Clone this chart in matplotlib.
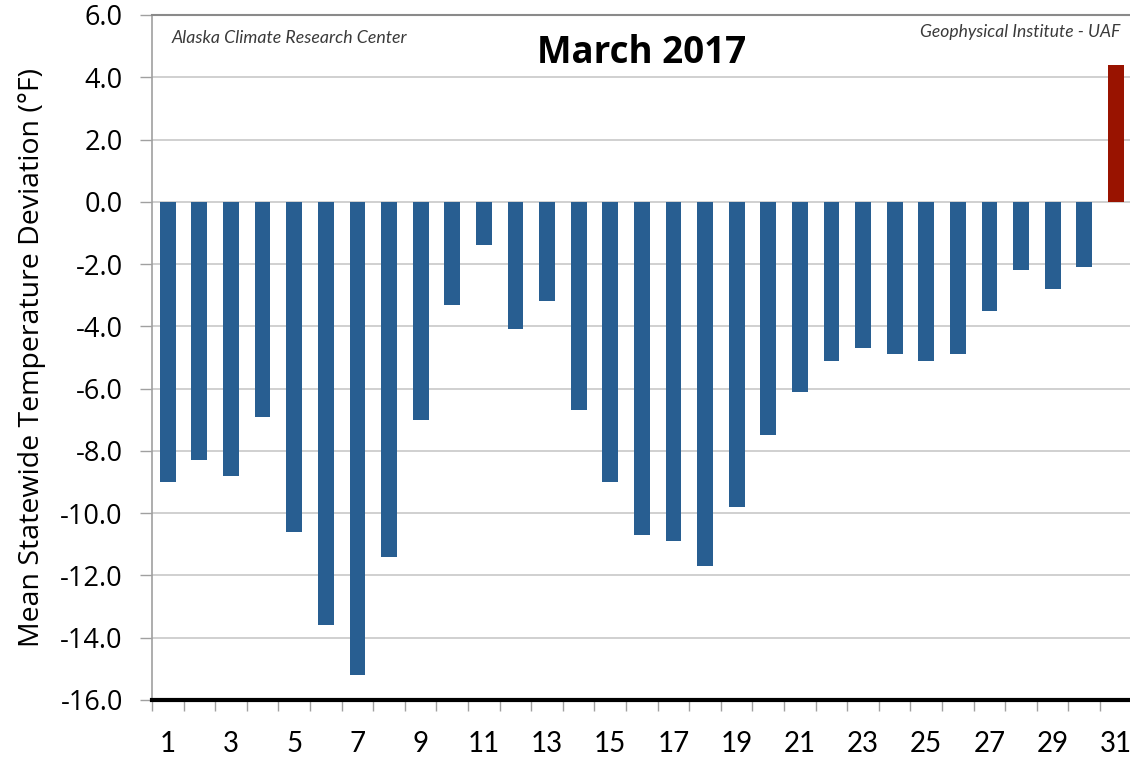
import matplotlib.pyplot as plt
import numpy as np

days = list(range(1, 32))
deviation = [-9.0, -8.3, -8.8, -6.9, -10.6, -13.6, -15.2, -11.4, -7.0, -3.3,
             -1.4, -4.1, -3.2, -6.7, -9.0, -10.7, -10.9, -11.7, -9.8, -7.5,
             -6.1, -5.1, -4.7, -4.9, -5.1, -4.9, -3.5, -2.2, -2.8, -2.1, 4.4]
y_ticks = np.arange(-16, 7, 2)
x_labels = [str(d) for d in days[::2]]

blue = "#285e91"
red = "#991300"
colors = [red if v > 0 else blue for v in deviation]

fig = plt.figure(figsize=(11.3, 7.57), dpi=100)
ax = fig.add_axes([0.1345, 0.0753, 0.867, 0.9049])

ax.bar(days, deviation, width=0.5, color=colors, zorder=3)

ax.set_xlim(0.5, 31.5)
ax.set_ylim(-16, 6)
ax.set_yticks(y_ticks)
ax.set_yticklabels([f"{t:.1f}" for t in y_ticks], fontsize=19.5, family="Open Sans")
ax.yaxis.grid(True, color="#c8c8c8", linewidth=1.2, zorder=0)

# tick marks sit between categories, labels on odd days
ax.set_xticks(np.arange(0.5, 32, 1))
ax.set_xticklabels([])
ax.set_xticks(days[::2], minor=True)
ax.set_xticklabels(x_labels, minor=True, fontsize=20, family="Lato")
ax.tick_params(axis="x", which="major", direction="out", length=8,
               color="#a0a0a0", width=1)
ax.tick_params(axis="x", which="minor", length=0, pad=22)
ax.tick_params(axis="y", direction="out", length=9, color="#a0a0a0",
               width=1, pad=12)

ax.spines["right"].set_visible(False)
ax.spines["left"].set_color("#a0a0a0")
ax.spines["left"].set_linewidth(1.2)
ax.spines["top"].set_color("#8a8a8a")
ax.spines["top"].set_linewidth(1.5)
ax.spines["bottom"].set_color("black")
ax.spines["bottom"].set_linewidth(3)
ax.spines["bottom"].set_zorder(4)

ax.set_ylabel("Mean Statewide Temperature Deviation (°F)", fontsize=20.5,
              family="Open Sans", labelpad=10)

ax.text(0.5, 0.944, "March 2017", transform=ax.transAxes, ha="center",
        va="center", fontsize=26.5, fontweight="bold", family="Open Sans")
ax.text(0.02, 0.966, "Alaska Climate Research Center", transform=ax.transAxes,
        ha="left", va="center", fontsize=12.8, style="italic",
        family="Lato", color="#3a3a3a")
ax.text(0.988, 0.975, "Geophysical Institute - UAF", transform=ax.transAxes,
        ha="right", va="center", fontsize=12.6, style="italic",
        family="Lato", color="#3a3a3a")

fig.savefig("out.png", dpi=100)
